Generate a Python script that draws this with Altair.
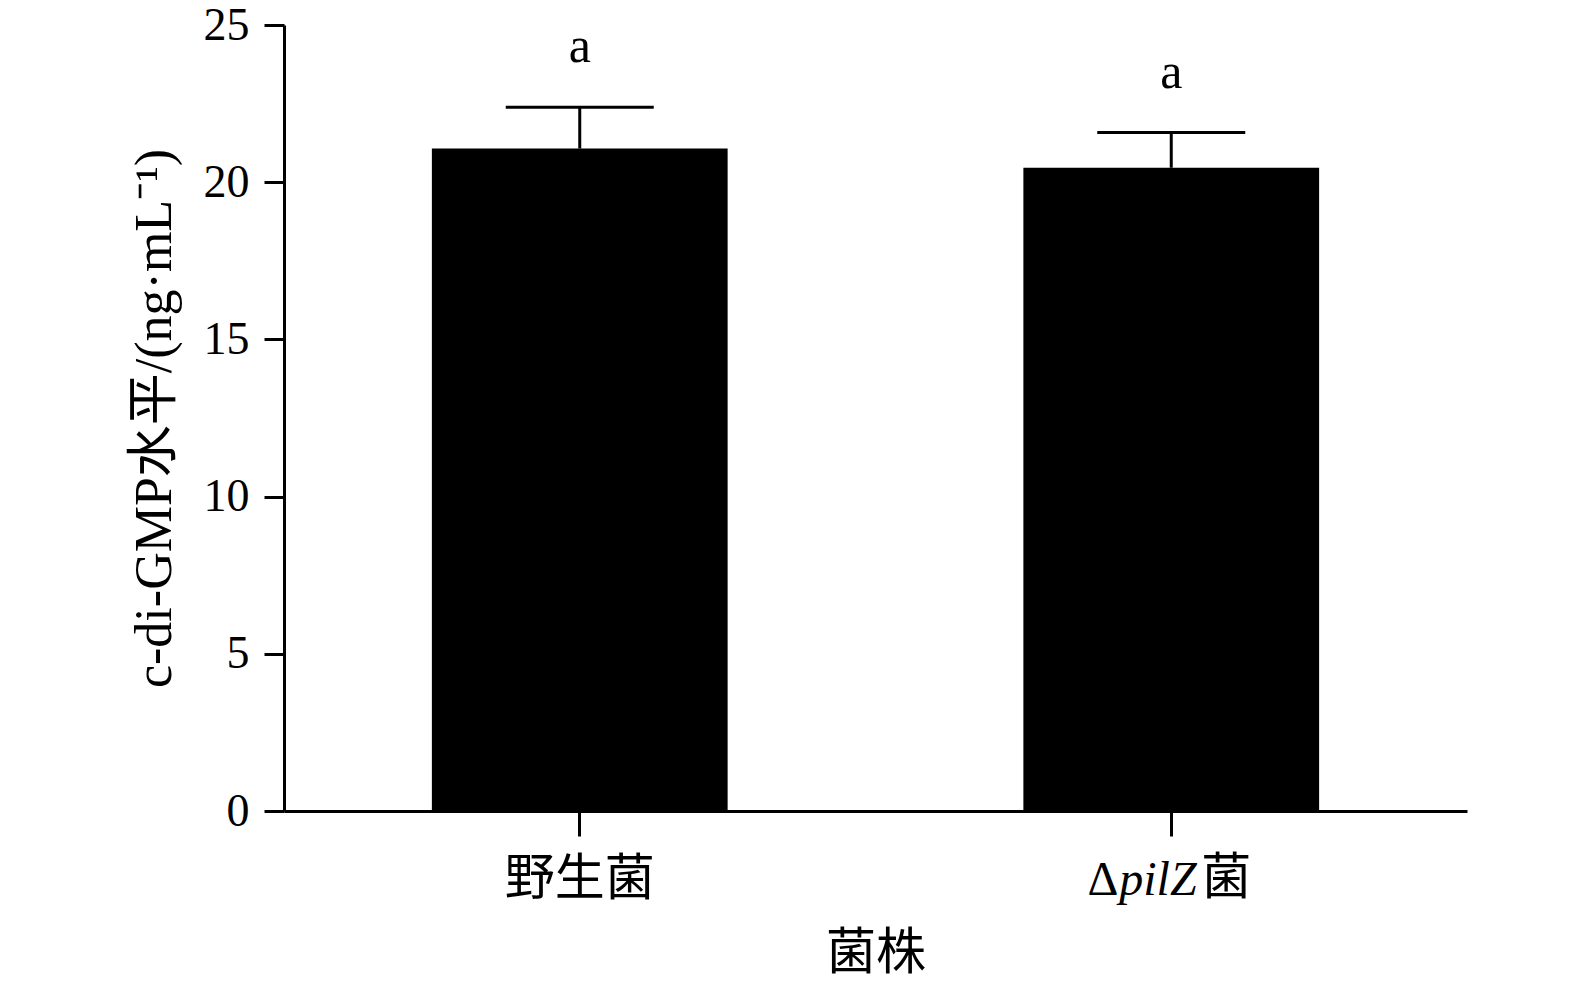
import altair as alt
import pandas as pd

strains = ["野生菌", "ΔpilZ菌"]
means = [21.07, 20.46]
sds = [1.31, 1.12]
letters = ["a", "a"]

df = pd.DataFrame({
    "strain": strains,
    "mean": means,
    "upper": [m + s for m, s in zip(means, sds)],
    "letter": letters,
})

SERIF = "Liberation Serif, Times New Roman, Noto Sans CJK SC"
W, H = 1183, 786

yscale = alt.Scale(domain=[0, 25], nice=False, zero=True)

xenc = alt.X(
    "strain:N",
    sort=strains,
    scale=alt.Scale(paddingInner=0.5, paddingOuter=0.25),
    axis=alt.Axis(
        title="菌株",
        labelAngle=0,
        labelExpr="datum.value == 'ΔpilZ菌' ? '' : datum.label",
        labelFontSize=50,
        labelPadding=18,
        tickSize=25,
        titleFontSize=50,
        titlePadding=24,
    ),
)

base = alt.Chart(df).encode(x=xenc)

bars = base.mark_bar(color="black").encode(
    y=alt.Y(
        "mean:Q",
        scale=yscale,
        axis=alt.Axis(
            values=[0, 5, 10, 15, 20, 25],
            title="c-di-GMP水平/(ng·mL⁻¹)",
            labelFontSize=46,
            labelPadding=15,
            tickSize=20,
            titleFontSize=52,
            titlePadding=22,
        ),
    )
)

stems = base.mark_rule(color="black", strokeWidth=3, opacity=1).encode(
    y=alt.Y("mean:Q", scale=yscale), y2="upper:Q"
)
caps = base.mark_tick(color="black", size=148, thickness=3, opacity=1).encode(
    y=alt.Y("upper:Q", scale=yscale)
)
marks = base.mark_text(font=SERIF, fontSize=50, baseline="alphabetic", dy=-45, color="black").encode(
    y=alt.Y("upper:Q", scale=yscale), text="letter:N"
)

lab_y = H + 25 + 18
second = alt.Chart(df[df["strain"] == strains[1]])
delta = second.mark_text(text="Δ", font=SERIF, fontSize=48, align="right", baseline="top", dx=-53, color="black").encode(
    x=alt.X("strain:N", sort=strains), y=alt.value(lab_y + 3)
)
pilz = second.mark_text(text="pilZ", font=SERIF, fontSize=48, fontStyle="italic", align="left", baseline="top", dx=-52, color="black").encode(
    x=alt.X("strain:N", sort=strains), y=alt.value(lab_y + 3)
)
jun = second.mark_text(text="菌", font=SERIF, fontSize=50, align="left", baseline="top", dx=30, color="black").encode(
    x=alt.X("strain:N", sort=strains), y=alt.value(lab_y)
)

chart = (
    alt.layer(bars, stems, caps, marks, delta, pilz, jun)
    .resolve_scale(y="shared")
    .properties(width=W, height=H, autosize=alt.AutoSizeParams(type="none"),
                padding={"left": 276, "top": 17, "right": 40, "bottom": 180})
    .configure_view(stroke=None)
    .configure_axis(
        grid=False,
        domainColor="black",
        domainWidth=3,
        tickColor="black",
        tickWidth=3,
        labelColor="black",
        titleColor="black",
        labelFont=SERIF,
        titleFont=SERIF,
        titleFontWeight="normal",
    )
)

chart.save("out.html", embed_options={"renderer": "svg", "actions": False})
